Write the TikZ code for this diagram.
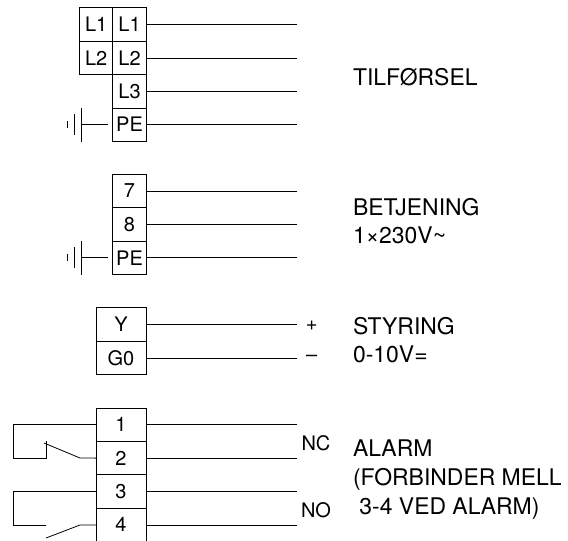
\documentclass[tikz,border=0pt]{standalone}
\usepackage{fontspec}
\setmainfont{TeX Gyre Heros}
\usetikzlibrary{positioning}
\begin{document}
\begin{tikzpicture}[x=0.75pt,y=-0.75pt,
  font=\fontsize{15}{18}\selectfont,
  line width=0.6pt,
  term/.style={draw,minimum width=25pt,minimum height=25.05pt,inner sep=0pt,outer sep=0pt},
  wide/.style={term,minimum width=37.5pt},
  caption/.style={anchor=north west,align=left,inner sep=0pt,font=\fontsize{17.2}{21}\selectfont}]

\useasboundingbox (0,0) rectangle (568,540);
\clip (0,0) rectangle (568,540);

%supply terminals
  \node[term] (l1) at (129.5,24.5) {L1};
  \node[term,below=0pt of l1] (l2) {L2};
  \node[term,below=0pt of l2] (l3) {L3};
  \node[term,below=0pt of l3] (pe1) {PE};
  \node[term,left=0pt of l1] (n1) {L1};
  \node[term,left=0pt of l2] (n2) {L2};

%control terminals
  \node[term] (t7) at (129.5,191) {7};
  \node[term,below=0pt of t7] (t8) {8};
  \node[term,below=0pt of t8] (pe2) {PE};

%signal terminals
  \node[wide] (ty) at (121,324.5) {Y};
  \node[wide,below=0pt of ty] (g0) {G0};

%alarm terminals
  \node[wide] (a1) at (121,424.7) {1};
  \node[wide,below=0pt of a1] (a2) {2};
  \node[wide,below=0pt of a2] (a3) {3};
  \node[wide,below=0pt of a3] (a4) {4};

%wires
  \foreach \name in {l1,l2,l3,pe1,t7,t8,pe2,ty,g0,a1,a2,a3,a4} {
    \coordinate (\name-end) at (\name.east -| 297,0);
    \draw (\name.east) -- (\name-end);
  }

%earth symbols
  \foreach \name in {pe1,pe2} {
    \coordinate (\name-gnd) at (\name.west -| 81,0);
    \draw (\name-gnd) -- ([xshift=-3.75pt]\name.west);
    \draw ([shift={(0,-17)}]\name-gnd) -- ([shift={(0,17)}]\name-gnd);
    \draw ([shift={(-7,-10.5)}]\name-gnd) -- ([shift={(-7,10.5)}]\name-gnd);
    \draw ([shift={(-14,-3.5)}]\name-gnd) -- ([shift={(-14,3.5)}]\name-gnd);
  }

%normally closed contact
  \coordinate (ncout) at (80,458);
  \draw (a1.west) -- (a1.west -| 13,0) |- (46,458) -- (46,441);
  \draw (a2.west) -- (ncout) -- (44,443);

%normally open contact
  \coordinate (noout) at (80,525);
  \draw (a3.west) -- (a3.west -| 13,0) |- (46,525);
  \draw (a4.west) -- (noout) -- (46,538);

%labels
  \node[caption] (supply) at (352.7,67.5) {TILFØRSEL};
  \node[caption] (operate) at (352.7,198) {BETJENING\\1×230V\textasciitilde};
  \node[caption] (steer) at (352.7,317) {STYRING\\0-10V=};
  \node[caption,font=\fontsize{17.2}{21.7}\selectfont] (alarm) at (352.7,439.5) {ALARM\\(FORBINDER MELL\\\ 3-4 VED ALARM)};
  \node[inner sep=0pt] (plus) at (311.7,325.7) {+};
  \node[inner sep=0pt] (minus) at (311.7,358) {–};
  \node[inner sep=0pt] (nc) at (316,443) {NC};
  \node[inner sep=0pt] (no) at (316,510) {NO};
\end{tikzpicture}
\end{document}
